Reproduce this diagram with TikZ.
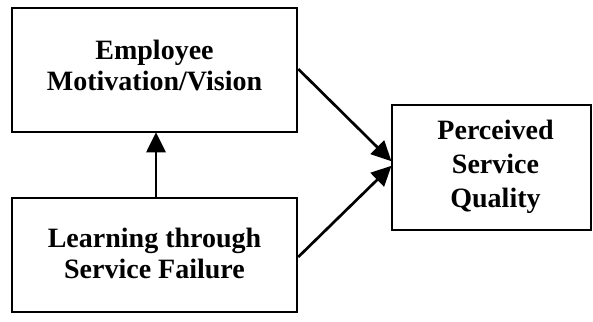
\documentclass[tikz,border=0pt]{standalone}
\usepackage{fontspec}
\setmainfont{Liberation Serif}
\usetikzlibrary{arrows.meta}
\begin{document}
\begin{tikzpicture}[x=1pt,y=-1pt,
  box/.style={draw=black, line width=2.5pt, inner sep=0pt},
  caption/.style={align=center, inner sep=0pt,
    font=\bfseries\fontsize{28}{31}\selectfont},
  link/.style={line width=2.7pt, -{Triangle[length=20pt,width=19pt]}, shorten >=-1pt}]
  \useasboundingbox (0,0) rectangle (593,321);
  % the three constructs
  \node[box, minimum width=285pt, minimum height=124pt] (emp) at (154.5,70) {};
  \node[caption] (empText) at ([yshift=5pt]emp.center) {Employee\\Motivation/Vision};
  \node[box, minimum width=285pt, minimum height=114pt] (learn) at (154.5,255) {};
  \node[caption] (learnText) at ([yshift=2pt]learn.center) {Learning through\\Service Failure};
  \node[box, minimum width=199pt, minimum height=125pt] (psq) at (491.5,167.5) {};
  \node[caption, font=\bfseries\fontsize{28}{34}\selectfont] (psqText)
    at ([xshift=4pt,yshift=1pt]psq.center) {Perceived\\Service\\Quality};
  % relationships
  \draw[link] ([xshift=1.5pt]learn.north) -- ([xshift=1.5pt]emp.south);
  \draw[link] ([yshift=1pt]emp.east) -- ([yshift=7pt]psq.west);
  \draw[link] ([yshift=-2pt]learn.east) -- ([yshift=1pt]psq.west);
\end{tikzpicture}
\end{document}
